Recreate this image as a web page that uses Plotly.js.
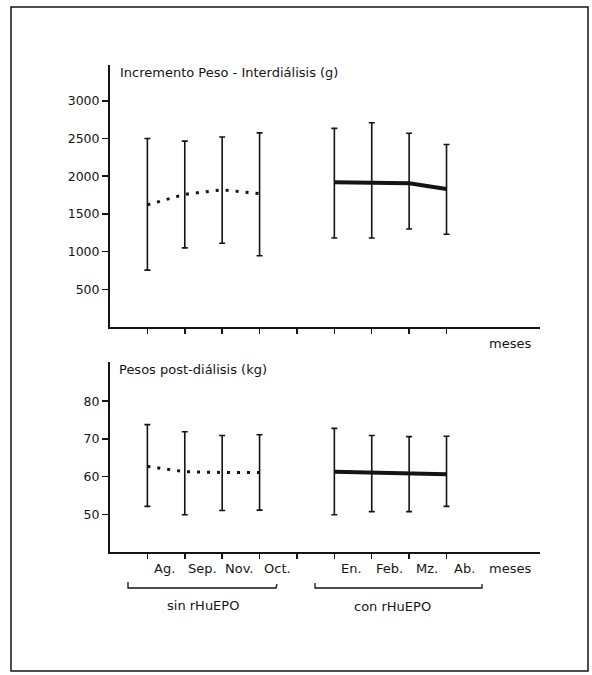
<!DOCTYPE html>
<html><head><meta charset="utf-8">
<script src="https://cdn.plot.ly/plotly-3.0.1.min.js"></script>
<style>html,body{margin:0;padding:0;background:#fff}</style>
</head><body><div id="chart" style="width:592px;height:675px"></div>
<script>
// ---- data ----
const monthsSin = ["Ag.", "Sep.", "Nov.", "Oct."];
const monthsCon = ["En.", "Feb.", "Mz.", "Ab."];
const xSin = [0, 1, 2, 3];
const xCon = [5, 6, 7, 8];
const xTicks = [0, 1, 2, 3, 4, 5, 6, 7, 8];
// Incremento Peso - Interdiálisis (g): media, límite superior, límite inferior
const incSinMean = [1620, 1760, 1820, 1770];
const incSinHigh = [2500, 2465, 2520, 2575];
const incSinLow  = [755, 1050, 1110, 945];
const incConMean = [1920, 1910, 1905, 1830];
const incConHigh = [2635, 2710, 2570, 2420];
const incConLow  = [1180, 1180, 1300, 1230];
// Pesos post-diálisis (kg)
const pesSinMean = [62.7, 61.3, 61.1, 61.1];
const pesSinHigh = [73.8, 71.9, 70.9, 71.1];
const pesSinLow  = [52.1, 49.9, 51.0, 51.1];
const pesConMean = [61.3, 61.1, 60.9, 60.6];
const pesConHigh = [72.8, 70.9, 70.6, 70.7];
const pesConLow  = [49.9, 50.7, 50.7, 52.1];
const incTicks = [500, 1000, 1500, 2000, 2500, 3000];
const pesTicks = [50, 60, 70, 80];
const groupLabels = ["sin rHuEPO", "con rHuEPO"];

// ---- helpers ----
const W = 592, H = 675;
const px = v => v / W;
const py = v => 1 - v / H;
const INK = '#141414';
const FONT = {family: 'DejaVu Sans, Liberation Sans, Arial, sans-serif', size: 13, color: INK};
const TICKFONT = {family: 'DejaVu Sans, Liberation Sans, Arial, sans-serif', size: 12.5, color: INK};

function series(x, mean, hi, lo, xa, ya, dotted) {
  return {
    x: x, y: mean, xaxis: xa, yaxis: ya, type: 'scatter', mode: 'lines',
    line: dotted ? {color: INK, width: 3, dash: '3px,7px'} : {color: INK, width: 4},
    error_y: {
      type: 'data', symmetric: false,
      array: hi.map((h, i) => h - mean[i]),
      arrayminus: lo.map((l, i) => mean[i] - l),
      color: INK, thickness: 1.6, width: 3
    },
    hoverinfo: 'skip', showlegend: false
  };
}

const data = [
  series(xSin, incSinMean, incSinHigh, incSinLow, 'x', 'y', true),
  series(xCon, incConMean, incConHigh, incConLow, 'x', 'y', false),
  series(xSin, pesSinMean, pesSinHigh, pesSinLow, 'x2', 'y2', true),
  series(xCon, pesConMean, pesConHigh, pesConLow, 'x2', 'y2', false)
];

const xBase = {
  domain: [px(110), px(540)], range: [-1, 10.5],
  showline: true, linecolor: INK, linewidth: 2,
  showgrid: false, zeroline: false,
  tickmode: 'array', tickvals: xTicks, showticklabels: false,
  ticks: 'outside', ticklen: 5, tickwidth: 1.5, tickcolor: INK
};
const yBase = {
  showline: true, linecolor: INK, linewidth: 2,
  showgrid: false, zeroline: false, tickmode: 'array',
  ticks: 'outside', ticklen: 6, tickwidth: 1.5, tickcolor: INK,
  tickfont: TICKFONT
};

const annotations = [
  {text: 'Incremento Peso - Interdiálisis (g)', xref: 'paper', yref: 'paper',
   x: px(118), y: py(72), xanchor: 'left', yanchor: 'middle', showarrow: false, font: FONT},
  {text: 'Pesos post-diálisis (kg)', xref: 'paper', yref: 'paper',
   x: px(117), y: py(369), xanchor: 'left', yanchor: 'middle', showarrow: false, font: FONT},
  {text: 'meses', xref: 'paper', yref: 'paper', x: px(510), y: py(343),
   xanchor: 'center', yanchor: 'middle', showarrow: false, font: FONT},
  {text: 'meses', xref: 'paper', yref: 'paper', x: px(510), y: py(568),
   xanchor: 'center', yanchor: 'middle', showarrow: false, font: FONT},
  {text: groupLabels[0], xref: 'paper', yref: 'paper', x: px(203), y: py(605),
   xanchor: 'center', yanchor: 'middle', showarrow: false, font: FONT},
  {text: groupLabels[1], xref: 'paper', yref: 'paper', x: px(392), y: py(606),
   xanchor: 'center', yanchor: 'middle', showarrow: false, font: FONT}
];
monthsSin.concat(monthsCon).forEach((m, i) => {
  const xv = xSin.concat(xCon)[i] + 0.47;
  annotations.push({text: m, xref: 'x2', yref: 'paper', x: xv, y: py(568),
    xanchor: 'center', yanchor: 'middle', showarrow: false, font: FONT});
});

const shapes = [
  {type: 'rect', xref: 'paper', yref: 'paper', x0: px(11), x1: px(588), y0: py(671), y1: py(7),
   line: {color: INK, width: 1.5}},
  {type: 'path', xref: 'paper', yref: 'paper',
   path: `M ${px(128)} ${py(582)} L ${px(128)} ${py(588)} L ${px(276)} ${py(588)} L ${px(277)} ${py(584)}`,
   line: {color: INK, width: 1.3}},
  {type: 'path', xref: 'paper', yref: 'paper',
   path: `M ${px(315)} ${py(583)} L ${px(315)} ${py(588)} L ${px(482)} ${py(588)} L ${px(482)} ${py(584)}`,
   line: {color: INK, width: 1.3}}
];

const layout = {
  width: W, height: H,
  margin: {l: 0, r: 0, t: 0, b: 0},
  paper_bgcolor: '#fff', plot_bgcolor: 'rgba(0,0,0,0)',
  font: FONT, showlegend: false,
  xaxis: Object.assign({}, xBase, {anchor: 'y'}),
  yaxis: Object.assign({}, yBase, {anchor: 'x', domain: [py(327), py(65)], range: [0, 3475], tickvals: incTicks}),
  xaxis2: Object.assign({}, xBase, {anchor: 'y2'}),
  yaxis2: Object.assign({}, yBase, {anchor: 'x2', domain: [py(552), py(362)], range: [40, 90.4], tickvals: pesTicks}),
  annotations: annotations,
  shapes: shapes
};

Plotly.newPlot('chart', data, layout, {staticPlot: true, displayModeBar: false});
</script>
</body></html>
